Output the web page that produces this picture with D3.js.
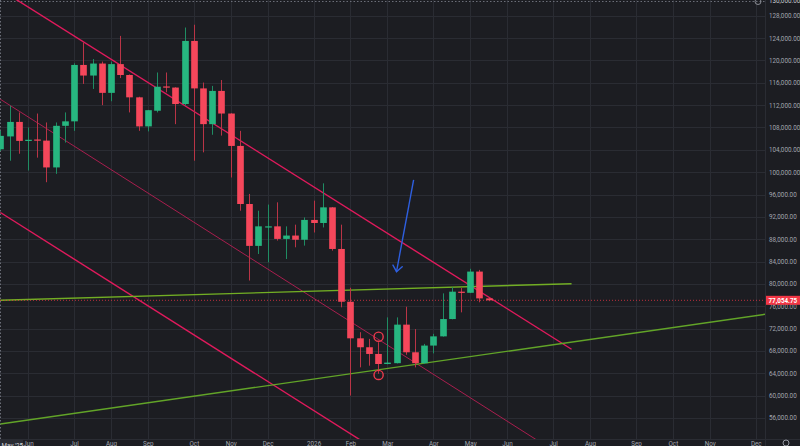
<!DOCTYPE html>
<html><head><meta charset="utf-8">
<script src="https://cdn.jsdelivr.net/npm/d3@7"></script>
<style>html,body{margin:0;padding:0;background:#1c1d22;overflow:hidden}</style>
</head><body>
<svg id="c" width="800" height="446"></svg>
<script>
// ---- data ----
const dates = ["2025-05-12","2025-05-19","2025-05-26","2025-06-02","2025-06-09","2025-06-16","2025-06-23","2025-06-30",
"2025-07-07","2025-07-14","2025-07-21","2025-07-28","2025-08-04","2025-08-11","2025-08-18","2025-08-25",
"2025-09-01","2025-09-08","2025-09-15","2025-09-22","2025-09-29","2025-10-06","2025-10-13","2025-10-20",
"2025-10-27","2025-11-03","2025-11-10","2025-11-17","2025-11-24","2025-12-01","2025-12-08","2025-12-15",
"2025-12-22","2025-12-29","2026-01-05","2026-01-12","2026-01-19","2026-01-26","2026-02-02","2026-02-09",
"2026-02-16","2026-02-23","2026-03-02","2026-03-09","2026-03-16","2026-03-23","2026-03-30","2026-04-06",
"2026-04-13","2026-04-20","2026-04-27","2026-05-04","2026-05-11","2026-05-18"];
const open  = [104100,106400,109000,105650,105850,105650,100850,108300,109100,119200,117300,119450,114200,119350,117400,113400,
108200,111000,115350,115150,112200,123500,115000,108600,114550,110500,104700,94300,86800,90100,90300,88050,
88650,87900,91450,90900,93700,86250,76800,70250,68650,67450,65650,65800,72700,67750,65800,68950,
70600,73700,78600,78400,82200,77400];
const high  = [107400,111900,110700,108000,110500,108900,108900,110700,119500,123200,120250,119800,119800,124400,117500,113500,
111150,117850,117850,115200,125900,126400,116050,115450,116500,110550,107400,96100,93100,94200,94600,90300,
90600,91900,94900,98000,93750,90600,79300,71350,70150,69550,74000,74000,75900,71900,69250,71050,
78300,79400,79250,82700,82500,77500];
const low   = [103800,102050,103300,100300,102600,98200,99700,105300,107400,115800,114900,112000,112700,116850,110700,107400,
107300,110700,114300,108600,111900,102050,103550,106700,106550,99050,93100,80600,85350,83850,87750,84450,
86550,86850,89200,90100,85950,75800,60000,65050,65350,63900,65600,65750,67300,65050,65650,67550,
70550,73650,74900,78350,76700,76900];
const close = [106500,109000,105600,105800,105650,100850,108300,109100,119200,117300,119450,114200,119350,117400,113400,108200,
111100,115300,115150,112200,123500,115000,108600,114550,110500,104700,94300,86800,90300,90300,88050,88650,
87900,91450,90900,93700,86250,76800,70250,68650,67450,65650,65900,72700,67750,65800,68950,70600,
73700,78600,78400,82200,77400,77054.75];
const lastPrice = 77054.75;
const priceTicks = [56000,60000,64000,68000,72000,76000,80000,84000,88000,92000,96000,100000,104000,108000,112000,116000,120000,124000,128000];
const monthTickDates = ["2025-06-02","2025-07-07","2025-08-04","2025-09-01","2025-10-06","2025-11-03","2025-12-01","2026-01-05",
"2026-02-02","2026-03-02","2026-04-06","2026-05-04","2026-06-01","2026-07-06","2026-08-03","2026-09-07","2026-10-05","2026-11-02","2026-12-07"];
const monthTickLabels = ["Jun","Jul","Aug","Sep","Oct","Nov","Dec","2026","Feb","Mar","Apr","May","Jun","Jul","Aug","Sep","Oct","Nov","Dec"];
const firstLabel = "May '25";
const topPriceLabel = 130000;
// drawings: [date, price] anchor pairs
const channelUpper  = [["2025-05-12",132700],["2026-07-20",68290]];
const channelMiddle = [["2025-05-12",113050],["2026-07-06",50185]];
const channelLower  = [["2025-05-12",92780],["2026-03-09",47946]];
const greenUpper    = [["2025-05-12",77060],["2026-07-20",80030]];
const greenLower    = [["2025-05-12",54910],["2026-12-14",74550]];
const blueArrow     = [["2026-03-22",98600],["2026-03-09",82180]];
const markerCircles = [["2026-02-23",70540],["2026-02-23",63690]];

// ---- setup ----
const P = d => d3.utcParse("%Y-%m-%d")(d);
const svg = d3.select("#c");
const plotR = 765, plotB = 439;
const bg = "#1c1d22", grid = "#2a2c33", txt = "#a3a6af";
const upC = "#27b680", dnC = "#f5475b";
const font = "Roboto, 'Liberation Sans', sans-serif";
const fs = 6.3;

const x = d3.scaleUtc().domain([P("2025-05-12"), P("2026-12-14")]).range([0.4, plotR]);
const y = d3.scaleLinear().domain([56000,128000]).range([417.9, 15.8]);

svg.append("rect").attr("width",800).attr("height",446).attr("fill",bg);
svg.append("defs").append("clipPath").attr("id","clip").append("rect").attr("width",plotR).attr("height",plotB);

// grid
const gy = svg.append("g")
  .call(d3.axisRight(y).tickValues(priceTicks).tickSize(plotR).tickFormat(""));
gy.select(".domain").remove();
gy.selectAll("line").attr("stroke",grid).attr("stroke-width",1).attr("shape-rendering","crispEdges");
const gx = svg.append("g")
  .call(d3.axisBottom(x).tickValues(monthTickDates.map(P)).tickSize(plotB).tickFormat(""));
gx.select(".domain").remove();
gx.selectAll("line").attr("stroke",grid).attr("stroke-width",1).attr("shape-rendering","crispEdges");

// top / left dotted borders
svg.append("line").attr("x1",0).attr("x2",plotR).attr("y1",1.5).attr("y2",1.5)
  .attr("stroke","#6b6e78").attr("stroke-dasharray","1.5,2");
svg.append("line").attr("x1",0.5).attr("x2",0.5).attr("y1",0).attr("y2",plotB)
  .attr("stroke","#6b6e78").attr("stroke-dasharray","1.5,2");

const plot = svg.append("g").attr("clip-path","url(#clip)");
const line = d3.line().x(d=>x(P(d[0]))).y(d=>y(d[1]));

// trend lines
plot.append("path").datum(channelMiddle).attr("d",line).attr("fill","none").attr("stroke","#a81e4e").attr("stroke-width",1);
plot.append("path").datum(channelUpper).attr("d",line).attr("fill","none").attr("stroke","#e01a5c").attr("stroke-width",1.4);
plot.append("path").datum(channelLower).attr("d",line).attr("fill","none").attr("stroke","#e01a5c").attr("stroke-width",1.4);
plot.append("path").datum(greenUpper).attr("d",line).attr("fill","none").attr("stroke","#72ae24").attr("stroke-width",1.4);
plot.append("path").datum(greenLower).attr("d",line).attr("fill","none").attr("stroke","#62a428").attr("stroke-width",1.4);

// current price dotted line
plot.append("line").attr("x1",0).attr("x2",plotR).attr("y1",y(lastPrice)).attr("y2",y(lastPrice))
  .attr("stroke","#f23645").attr("stroke-opacity",0.75).attr("stroke-dasharray","1,2");

// candles
const bar = x(P("2025-05-19")) - x(P("2025-05-12"));
const bw = bar*0.72;
dates.forEach((d,i)=>{
  const cx = x(P(d));
  const up = close[i] >= open[i];
  const col = up ? upC : dnC;
  plot.append("line").attr("x1",Math.round(cx)+0.5).attr("x2",Math.round(cx)+0.5)
    .attr("y1",y(high[i])).attr("y2",y(low[i])).attr("stroke",up?"#1f8c63":"#b93446").attr("stroke-width",1);
  const top = y(Math.max(open[i],close[i])), bot = y(Math.min(open[i],close[i]));
  plot.append("rect").attr("x",Math.round(cx)+0.5-bw/2).attr("width",bw)
    .attr("y",top).attr("height",Math.max(1.2,bot-top)).attr("fill",col);
});

// red circles
markerCircles.forEach(m=>{
  plot.append("circle").attr("cx",x(P(m[0]))+0.5).attr("cy",y(m[1])).attr("r",4.6)
    .attr("fill","none").attr("stroke","#ee3a4c").attr("stroke-width",1.4);
});

// blue arrow
{
  const x1=x(P(blueArrow[0][0])), y1=y(blueArrow[0][1]);
  const x2=x(P(blueArrow[1][0])), y2=y(blueArrow[1][1]);
  plot.append("line").attr("x1",x1).attr("y1",y1).attr("x2",x2).attr("y2",y2)
    .attr("stroke","#2e5fe0").attr("stroke-width",1.4);
  const a = Math.atan2(y1-y2, x1-x2), L=7.5, s=0.68;
  [a+s,a-s].forEach(b=>{
    plot.append("line").attr("x1",x2).attr("y1",y2).attr("x2",x2+L*Math.cos(b)).attr("y2",y2+L*Math.sin(b))
      .attr("stroke","#2e5fe0").attr("stroke-width",1.4).attr("stroke-linecap","round");
  });
}

// axis separators
svg.append("line").attr("x1",plotR+0.5).attr("x2",plotR+0.5).attr("y1",0).attr("y2",446).attr("stroke",grid);
svg.append("line").attr("x1",0).attr("x2",800).attr("y1",plotB+0.5).attr("y2",plotB+0.5).attr("stroke",grid);

// right axis labels
const ay = svg.append("g").attr("transform",`translate(${plotR},0)`)
  .call(d3.axisRight(y).tickValues(priceTicks).tickSize(0).tickPadding(4).tickFormat(d3.format(",.2f")));
ay.select(".domain").remove();
ay.selectAll("text").attr("fill",txt).attr("font-size",fs).attr("font-family",font);

// top cut label
svg.append("text").attr("x",plotR+4).attr("y",3.2).attr("fill","#c8cad0")
  .attr("font-size",fs).attr("font-family",font).text(d3.format(",.2f")(topPriceLabel));
svg.append("circle").attr("cx",758).attr("cy",1.5).attr("r",3).attr("fill","none").attr("stroke","#a3a6af").attr("stroke-width",0.8);

// last price label
svg.append("rect").attr("x",plotR+1).attr("y",y(lastPrice)-4.5).attr("width",35).attr("height",9).attr("fill","#f23645");
svg.append("text").attr("x",plotR+3.5).attr("y",y(lastPrice)).attr("dy","0.35em").attr("fill","#ffffff")
  .attr("font-size",fs).attr("font-weight","bold").attr("font-family",font).text(d3.format(",.2f")(lastPrice));

// bottom axis labels
const ax = svg.append("g").attr("transform",`translate(0,${plotB})`)
  .call(d3.axisBottom(x).tickValues(monthTickDates.map(P)).tickSize(0).tickPadding(3)
    .tickFormat((d,i)=>monthTickLabels[i]));
ax.select(".domain").remove();
ax.selectAll("text").attr("fill",txt).attr("font-size",fs).attr("font-family",font);
svg.append("rect").attr("x",0).attr("y",plotB+1).attr("width",23).attr("height",8).attr("fill","#2a2c33");
svg.append("text").attr("x",1.5).attr("y",plotB+8.5).attr("fill","#d0d2d8").attr("font-size",fs).attr("font-family",font).text(firstLabel);
// gear icon
svg.append("circle").attr("cx",786).attr("cy",443).attr("r",3).attr("fill","none").attr("stroke","#a3a6af").attr("stroke-width",0.9);
</script>
</body></html>
